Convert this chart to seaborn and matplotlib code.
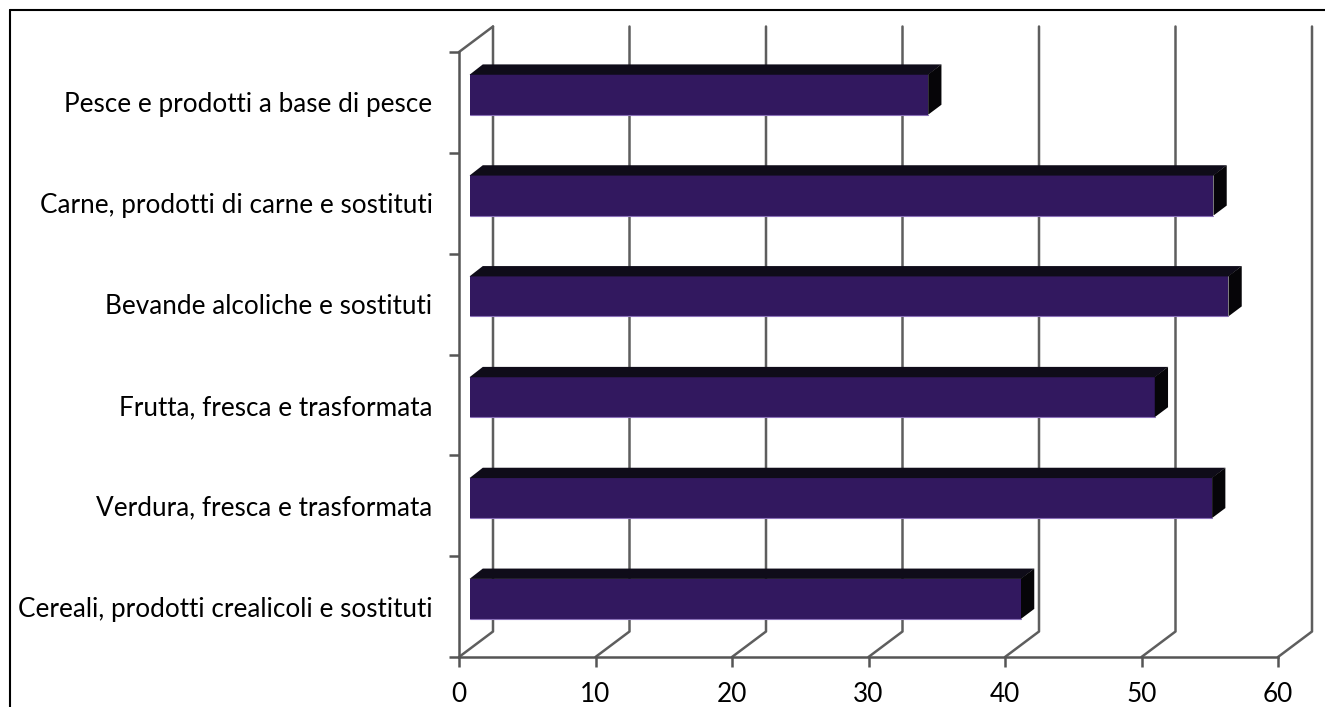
import matplotlib
matplotlib.use('Agg')
import matplotlib.pyplot as plt
from matplotlib.lines import Line2D
from matplotlib.patches import Polygon
import numpy as np
import pandas as pd
import seaborn as sns

categories = ['Pesce e prodotti a base di pesce',
              'Carne, prodotti di carne e sostituti',
              'Bevande alcoliche e sostituti',
              'Frutta, fresca e trasformata',
              'Verdura, fresca e trasformata',
              'Cereali, prodotti crealicoli e sostituti']
values = [33.6, 54.5, 55.6, 50.2, 54.4, 40.4]
x_ticks = [0, 10, 20, 30, 40, 50, 60]

W, H = 1325, 707
front_col = '#32185f'
top_col = '#0f0c19'
side_col = '#060508'
grid_col = '#5e5e5e'

sns.set_style('white')
plt.rcParams['font.family'] = ['Lato', 'DejaVu Sans']

fig = plt.figure(figsize=(W / 100, H / 100), dpi=100)
ax = fig.add_axes([459 / W, 50 / H, 819 / W, 605 / H])

df = pd.DataFrame({'cat': categories, 'val': values})
sns.barplot(data=df, x='val', y='cat', orient='h', width=0.4,
            color=front_col, saturation=1, linewidth=0, ax=ax, zorder=3)

ax.set_xlim(0, 60)
ax.set_ylim(5.5, -0.5)

# pixel -> data scale
sx = 819 / 60.0
sy = 605 / 6.0
# depth direction of the 3d box (full depth)
dep_x = 34 / sx
dep_y = 25.5 / sy

# back wall and floor lines
for xv in x_ticks:
    ax.plot([xv, xv + dep_x, xv + dep_x], [5.5, 5.5 - dep_y, -0.5 - dep_y],
            color=grid_col, lw=1.8, clip_on=False, zorder=1)
ax.plot([0, dep_x], [-0.5, -0.5 - dep_y], color=grid_col, lw=1.8,
        clip_on=False, zorder=1)

# bars sit in the middle of the depth
f0 = 0.31
f1 = 0.39
for p in ax.patches:
    p.set_x(p.get_x() + f0 * dep_x)
    p.set_y(p.get_y() - f0 * dep_y)
    x0 = p.get_x()
    w = p.get_width()
    yt = p.get_y()
    yb = yt + p.get_height()
    ddx = f1 * dep_x
    ddy = f1 * dep_y
    top = Polygon([[x0, yt + 0.004], [x0 + ddx, yt - ddy],
                   [x0 + w + ddx, yt - ddy], [x0 + w, yt + 0.004]],
                  closed=True, facecolor=top_col, edgecolor='none', zorder=3)
    side = Polygon([[x0 + w, yt], [x0 + w + ddx, yt - ddy],
                    [x0 + w + ddx, yb - ddy], [x0 + w, yb]], closed=True,
                   facecolor=side_col, edgecolor='none', zorder=3)
    ax.add_patch(top)
    ax.add_patch(side)
    # thin light line along the lower edge of the front face
    ax.plot([x0, x0 + w], [yb, yb], color='#8a70b8', lw=0.8, zorder=4)

# front axes
for s in ['top', 'right']:
    ax.spines[s].set_visible(False)
for s in ['left', 'bottom']:
    ax.spines[s].set_color('#555555')
    ax.spines[s].set_linewidth(1.8)
    ax.spines[s].set_zorder(2)

ax.set_xticks(x_ticks)
ax.set_xticklabels([str(t) for t in x_ticks])
ax.set_yticks(np.arange(-0.5, 6.0, 1.0))
ax.set_yticklabels([])
ax.set_yticks(np.arange(6), minor=True)
ax.set_yticklabels(categories, minor=True)
ax.tick_params(axis='y', which='major', left=True, length=7, width=1.8,
               color='#555555', direction='out')
ax.tick_params(axis='y', which='minor', left=True, length=0, pad=19,
               labelsize=18.8, labelcolor='#000000')
ax.tick_params(axis='x', which='major', bottom=True, length=7, width=1.8,
               color='#555555', direction='out', pad=11, labelsize=18.8,
               labelcolor='#000000')
ax.set_xlabel('')
ax.set_ylabel('')
ax.grid(False)
ax.patch.set_alpha(0)

# outer frame
fig.add_artist(Line2D([10 / W, 1.0], [1 - 10 / H, 1 - 10 / H],
                      color='black', lw=1.5))
fig.add_artist(Line2D([10 / W, 10 / W], [0, 1 - 10 / H],
                      color='black', lw=1.5))

fig.savefig('out.png', dpi=100)
